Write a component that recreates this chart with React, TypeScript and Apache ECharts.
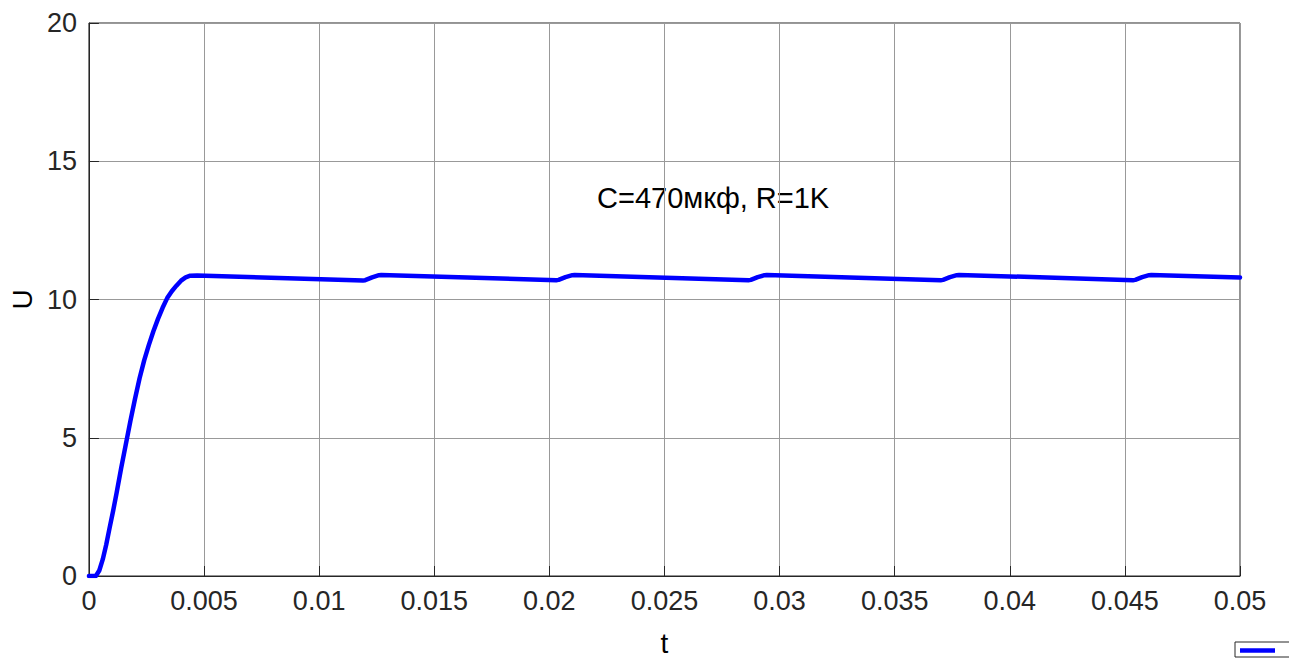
import React, { useEffect, useRef } from "react";
import * as echarts from "echarts";

// time (s) and voltage (V)
const tValues: number[] = [
  0, 0.0003, 0.00045, 0.0006, 0.00075, 0.0009, 0.00105, 0.0012, 0.0014, 0.0016, 0.0018, 0.002, 0.0022, 0.0024,
  0.0026, 0.0028, 0.003, 0.0032, 0.0034, 0.0036, 0.0038, 0.004, 0.0042, 0.0044, 0.0047,
  0.0119, 0.0120, 0.0123, 0.0126, 0.0127,
  0.0203, 0.0204, 0.0207, 0.0210, 0.0211,
  0.02865, 0.02875, 0.02905, 0.02935, 0.02945,
  0.0370, 0.0371, 0.0374, 0.0377, 0.0378,
  0.04535, 0.04545, 0.04575, 0.04605, 0.04615,
  0.05,
];
const uValues: number[] = [
  0, 0, 0.2, 0.6, 1.13, 1.75, 2.35, 3.0, 3.9, 4.75, 5.6, 6.4, 7.15, 7.8,
  8.35, 8.85, 9.3, 9.7, 10.05, 10.3, 10.5, 10.68, 10.8, 10.86, 10.87,
  10.69, 10.7, 10.8, 10.88, 10.89,
  10.7, 10.71, 10.81, 10.88, 10.89,
  10.7, 10.71, 10.81, 10.88, 10.89,
  10.7, 10.71, 10.81, 10.88, 10.89,
  10.7, 10.71, 10.81, 10.88, 10.89,
  10.8,
];
const xTicks = { min: 0, max: 0.05, interval: 0.005 };
const yTicks = { min: 0, max: 20, interval: 5 };
const annotation = "C=470мкф, R=1K";
const xName = "t";
const yName = "U";

const FONT = "'Liberation Sans', Arial, Helvetica, sans-serif";
const TXT = "#262626";

export default function App() {
  const ref = useRef<HTMLDivElement>(null);
  useEffect(() => {
    document.body.style.margin = "0";
    const chart = echarts.init(ref.current!, undefined, { renderer: "svg" });
    const data = tValues.map((t, i) => [t, uValues[i]]);
    chart.setOption({
      animation: false,
      backgroundColor: "#ffffff",
      grid: {
        left: 86,
        top: 23,
        width: 1154,
        height: 555,
        show: true,
        borderColor: TXT,
        borderWidth: 1,
        containLabel: false,
      },
      xAxis: {
        type: "value",
        min: xTicks.min,
        max: xTicks.max,
        interval: xTicks.interval,
        name: xName,
        nameLocation: "middle",
        nameGap: 53,
        nameTextStyle: { color: "#000", fontSize: 28, fontFamily: FONT },
        axisLine: { show: true, lineStyle: { color: TXT, width: 1 } },
        axisTick: { show: true, inside: true, length: 10, lineStyle: { color: TXT } },
        axisLabel: {
          color: TXT,
          fontSize: 27,
          fontFamily: FONT,
          margin: 11,
          formatter: (v: number) => (v === 0 ? "0" : String(+v.toFixed(3))),
        },
        splitLine: { show: true, lineStyle: { color: "#999999", width: 1 } },
      },
      yAxis: {
        type: "value",
        min: yTicks.min,
        max: yTicks.max,
        interval: yTicks.interval,
        name: yName,
        nameLocation: "middle",
        nameGap: 50,
        nameTextStyle: { color: "#000", fontSize: 28, fontFamily: FONT },
        axisLine: { show: true, lineStyle: { color: TXT, width: 1 } },
        axisTick: { show: true, inside: true, length: 10, lineStyle: { color: TXT } },
        axisLabel: { color: TXT, fontSize: 27, fontFamily: FONT, margin: 12 },
        splitLine: { show: true, lineStyle: { color: "#999999", width: 1 } },
      },
      series: [
        {
          type: "line",
          data,
          showSymbol: false,
          smooth: false,
          lineStyle: { color: "#0000ff", width: 4.5, join: "round", cap: "round" },
          z: 5,
        },
      ],
      graphic: [
        {
          type: "text",
          left: 597,
          top: 183,
          style: { text: annotation, fill: "#000", fontSize: 29, fontFamily: FONT },
        },
        {
          type: "rect",
          shape: { x: 1235, y: 642, width: 70, height: 15 },
          style: { fill: "#fff", stroke: TXT, lineWidth: 1 },
        },
        {
          type: "line",
          shape: { x1: 1240, y1: 650.5, x2: 1275, y2: 650.5 },
          style: { stroke: "#0000ff", lineWidth: 4.5 },
        },
      ],
    });
    return () => chart.dispose();
  }, []);
  return <div ref={ref} style={{ width: 1289, height: 662 }} />;
}
